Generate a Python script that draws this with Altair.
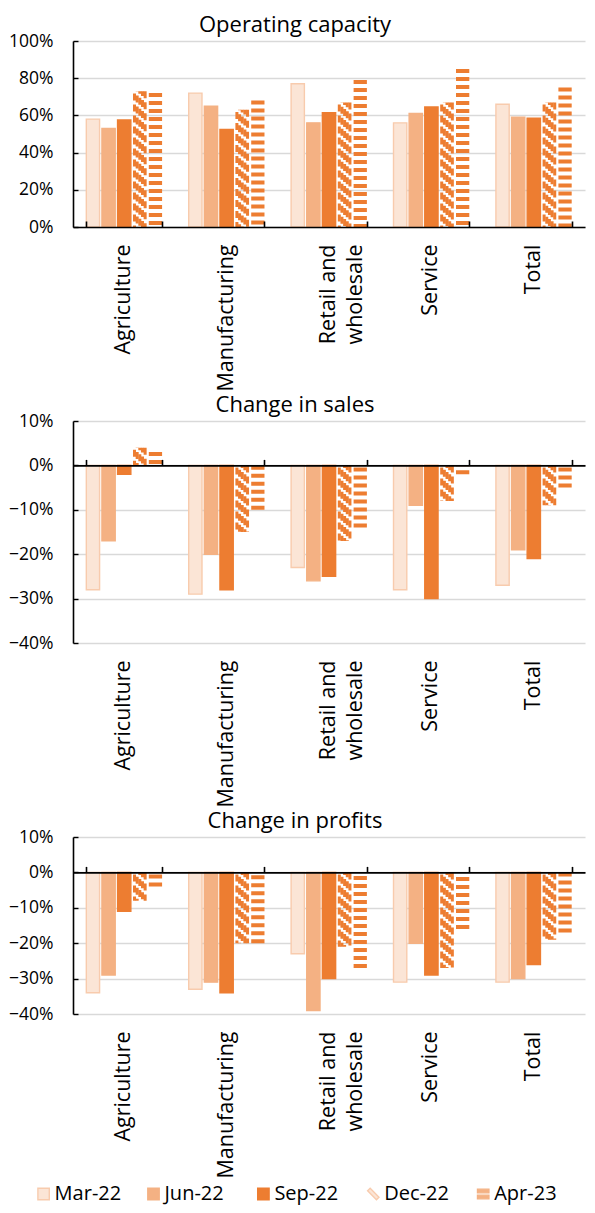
import altair as alt
import pandas as pd

categories = ["Agriculture", "Manufacturing", "Retail and wholesale", "Service", "Total"]
series = ["Mar-22", "Jun-22", "Sep-22", "Dec-22", "Apr-23"]

# values in percent
capacity = {
    "Mar-22": [58, 72, 77, 56, 66],
    "Jun-22": [53, 65, 56, 61, 59],
    "Sep-22": [57.5, 52.5, 61.5, 64.5, 58.5],
    "Dec-22": [73, 63, 67, 67, 67],
    "Apr-23": [72, 68, 79, 85, 75],
}
sales = {
    "Mar-22": [-28, -29, -23, -28, -27],
    "Jun-22": [-17, -20, -26, -9, -19],
    "Sep-22": [-2, -28, -25, -30, -21],
    "Dec-22": [4, -15, -17, -8, -9],
    "Apr-23": [3, -10, -14, -2, -5],
}
profits = {
    "Mar-22": [-34, -33, -23, -31, -31],
    "Jun-22": [-29, -31, -39, -20, -30],
    "Sep-22": [-11, -34, -30, -29, -26],
    "Dec-22": [-8, -20, -21, -27, -19],
    "Apr-23": [-4, -20, -27, -16, -17],
}

capacity_ticks = [0, 0.2, 0.4, 0.6, 0.8, 1.0]
change_ticks = [-0.4, -0.3, -0.2, -0.1, 0, 0.1]

solid_fill = ["#FBE5D6", "#F4B183", "#ED7D31"]
solid_stroke = ["#F8CBAD", "#F4B183", "#ED7D31"]
PATTERN = "#ED7D31"
FONT = "Open Sans"

PAD_INNER = 0.26
OFF_PAD = 0.15
WIDTH = 512


def long_df(values):
    rows = []
    for s in series:
        for c, v in zip(categories, values[s]):
            rows.append({"category": c, "series": s, "value": v / 100.0})
    return pd.DataFrame(rows)


def panel(values, title, domain, ticks, width, height):
    df = long_df(values)
    zero_px = height * domain[1] / (domain[1] - domain[0])
    group_w = width / 5.0 * (1 - PAD_INNER)
    bar_w = group_w / (5 - OFF_PAD) * (1 - OFF_PAD)
    sub_w = bar_w / 5.0

    xscale = alt.Scale(domain=categories, paddingInner=PAD_INNER, paddingOuter=PAD_INNER / 2)
    yscale = alt.Scale(domain=domain, nice=False, zero=False)

    label_axis = alt.Axis(
        orient="bottom", title=None, domain=False, ticks=False, grid=False,
        labelAngle=-90, labelAlign="right", labelBaseline="middle",
        labelPadding=17, labelFont=FONT, labelFontSize=21.5, labelColor="black",
        labelLineHeight=26.5,
        labelExpr="datum.value == 'Retail and wholesale' ? ['Retail and', 'wholesale'] : datum.value",
    )
    left_axis = alt.Axis(
        orient="left", title=None, values=ticks, format=".0%", ticks=False,
        domain=True, domainColor="black", domainWidth=1.6,
        grid=True, gridColor="#D9D9D9", gridWidth=1.3,
        labelFont=FONT, labelFontSize=17.5, labelColor="black", labelPadding=20,
    )
    top_axis = alt.Axis(
        orient="top", title=None, offset=-zero_px, labels=False, grid=False,
        domain=True, domainColor="black", domainWidth=1.6,
        ticks=True, tickBand="extent", tickSize=6, tickColor="black", tickWidth=1.6,
        zindex=1,
    )
    right_axis = alt.Axis(
        orient="right", title=None, offset=-width, values=ticks, labels=False,
        grid=False, domain=False, ticks=True, tickSize=5, tickColor="black",
        tickWidth=1.4,
    )

    bars = alt.Chart(df).transform_filter(
        alt.FieldOneOfPredicate(field="series", oneOf=series[:3])
    ).mark_bar(strokeWidth=1.4).encode(
        x=alt.X("category:N", sort=categories, scale=xscale, axis=label_axis),
        xOffset=alt.XOffset("series:N", sort=series,
                            scale=alt.Scale(domain=series, paddingInner=OFF_PAD, paddingOuter=0)),
        y=alt.Y("value:Q", scale=yscale, axis=left_axis),
        y2=alt.datum(0),
        fill=alt.Fill("series:N", scale=alt.Scale(domain=series[:3], range=solid_fill), legend=None),
        stroke=alt.Stroke("series:N", scale=alt.Scale(domain=series[:3], range=solid_stroke), legend=None),
    )

    layers = [bars]

    # Dec-22: wide downward diagonal hatch built from dashed sub-columns
    for j in range(5):
        frac = (3 + (1 - OFF_PAD) * (j + 0.5) / 5.0) / (5 - OFF_PAD)
        dec = alt.Chart(df).transform_filter(
            alt.datum.series == "Dec-22"
        ).transform_calculate(
            hi="max(datum.value, 0)", lo="min(datum.value, 0)"
        ).mark_rule(
            color=PATTERN, strokeWidth=sub_w + 0.35, strokeDash=[7, 4],
            strokeDashOffset=(4 - j) * 2.2, strokeCap="butt",
        ).encode(
            x=alt.X("category:N", sort=categories, scale=xscale, bandPosition=frac, axis=None),
            y=alt.Y("hi:Q", scale=yscale, axis=None),
            y2="lo:Q",
        )
        layers.append(dec)

    # Apr-23: horizontal dashes
    frac_apr = (4 + (1 - OFF_PAD) / 2.0) / (5 - OFF_PAD)
    apr = alt.Chart(df).transform_filter(
        alt.datum.series == "Apr-23"
    ).mark_rule(
        color=PATTERN, strokeWidth=bar_w, strokeDash=[4, 4], strokeCap="butt",
    ).encode(
        x=alt.X("category:N", sort=categories, scale=xscale, bandPosition=frac_apr, axis=top_axis),
        y=alt.Y("value:Q", scale=yscale, axis=right_axis),
        y2=alt.datum(0),
    )
    layers.append(apr)

    # panel title, centred over the whole panel (axis labels included)
    head = alt.Chart(pd.DataFrame({"title": [title]})).mark_text(
        font=FONT, fontSize=22, color="black", align="center", baseline="alphabetic",
    ).encode(
        x=alt.value(width / 2 - 34),
        y=alt.value(-9.3),
        text="title:N",
    )
    layers.append(head)

    return alt.layer(*layers).resolve_axis(x="independent", y="independent").properties(
        width=width, height=height,
    )


p1 = panel(capacity, "Operating capacity", [0, 1], capacity_ticks, WIDTH, 186)
p2 = panel(sales, "Change in sales", [-0.4, 0.1], change_ticks, WIDTH, 222)
p3 = panel(profits, "Change in profits", [-0.4, 0.1], change_ticks, WIDTH, 177)

# legend (spread across the full width, starting left of the plot area)
legend_df = pd.DataFrame({"series": series, "order": list(range(len(series)))})
dec_path = "M-1,-0.55 L-0.55,-1 L1,0.55 L0.55,1 Z"
apr_path = "M-1,-0.85 H1 V-0.2 H-1 Z M-1,0.2 H1 V0.85 H-1 Z"
leg_x = alt.X("order:Q", axis=None,
              scale=alt.Scale(domain=[0.2675, 4.9263], nice=False, zero=False))
sym = alt.Chart(legend_df).mark_point(filled=True, size=130, opacity=1, strokeWidth=1.4).encode(
    x=leg_x,
    y=alt.value(13),
    shape=alt.Shape("series:N", scale=alt.Scale(domain=series, range=["square", "square", "square", dec_path, apr_path]), legend=None),
    fill=alt.Fill("series:N", scale=alt.Scale(domain=series, range=solid_fill + [PATTERN, PATTERN]), legend=None),
    stroke=alt.Stroke("series:N", scale=alt.Scale(domain=series, range=solid_stroke + ["transparent", "transparent"]), legend=None),
)
txt = alt.Chart(legend_df).mark_text(align="left", baseline="middle", dx=11, font=FONT, fontSize=20, color="black").encode(
    x=leg_x,
    y=alt.value(13),
    text="series:N",
)
legend = alt.layer(sym, txt).properties(width=WIDTH, height=23)

chart = alt.vconcat(p1, p2, p3, legend, spacing=1).properties(
    padding={"left": 0, "top": 5, "right": 0, "bottom": 0}
).configure(font=FONT, view=alt.ViewConfig(stroke="transparent"))

chart.save("out.html", embed_options={"renderer": "svg", "actions": False})
